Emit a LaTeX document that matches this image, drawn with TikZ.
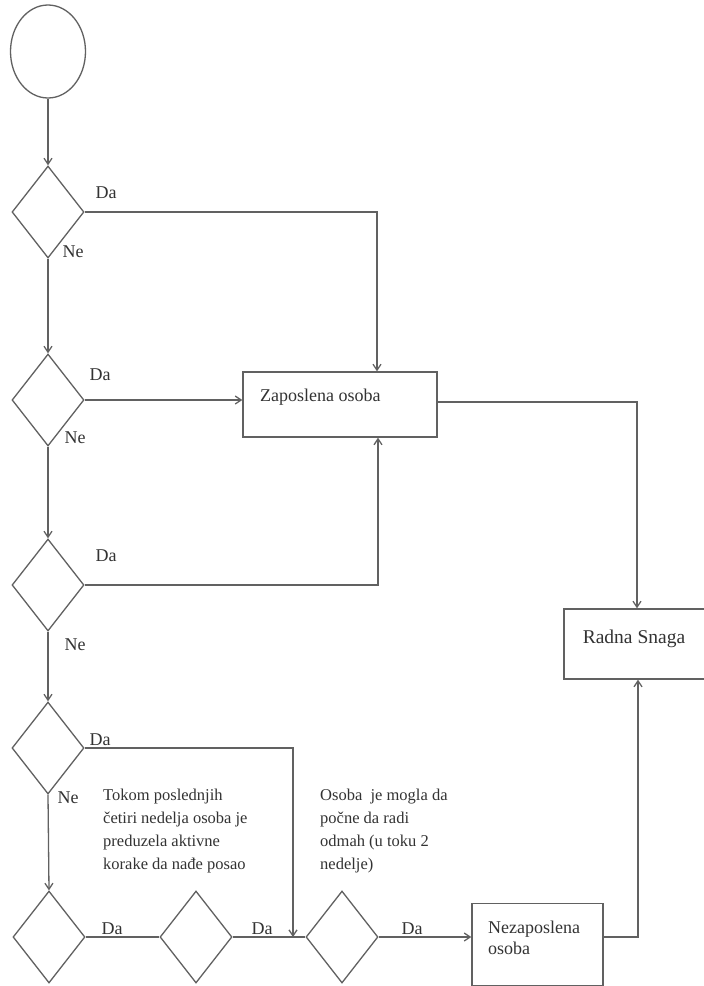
\documentclass[tikz,border=0pt]{standalone}
\usepackage{fontspec}
\setmainfont{Liberation Serif}
\usetikzlibrary{shapes.geometric,arrows.meta}
\begin{document}
\begin{tikzpicture}[x=1pt,y=-1pt,
  ln/.style={draw=black!62, line width=1.3pt},
  arr/.style={ln, -{Straight Barb[length=6pt,width=8pt]}},
  dec/.style={diamond, draw=black!62, line width=1.3pt, minimum width=72pt, minimum height=92pt, inner sep=0pt},
  box/.style={rectangle, draw=black!62, line width=1.3pt, inner sep=0pt},
  lbl/.style={font=\fontsize{18}{20}\selectfont, text=black!80, inner sep=0pt},
  note/.style={font=\fontsize{16.5}{23}\selectfont, text=black!80, align=left, inner sep=0pt}
]
\fill[white] (0,0) rectangle (704,986);
\useasboundingbox (0,0) rectangle (704,986);
\clip (0,0) rectangle (704,986);

% start
\node[ellipse, draw=black!62, line width=1.3pt, minimum width=75pt, minimum height=93pt, inner sep=0pt] (start) at (48,51.5) {};

% decisions
\node[dec] (d1) at (48,212) {};
\node[dec] (d2) at (48,400) {};
\node[dec] (d3) at (48,585) {};
\node[dec] (d4) at (48,748) {};
\node[dec] (d5) at (49,937) {};
\node[dec] (d6) at (196,937) {};
\node[dec] (d7) at (342,937) {};

% boxes
\node[box, minimum width=194pt, minimum height=65pt] (zap) at (340,404.5) {};
\node[lbl, anchor=base west] (zapT) at (260,401) {Zaposlena osoba};

\node[box, minimum width=146pt, minimum height=70pt] (rad) at (637,644) {};
\node[lbl, font=\fontsize{19.5}{22}\selectfont, anchor=base] (radT) at (634,643) {Radna Snaga};

\node[box, minimum width=131pt, minimum height=82pt] (nez) at (537.5,944.5) {};
\node[lbl, align=left, anchor=north west, font=\fontsize{18}{21}\selectfont] (nezT) at (488,920.7) {Nezaposlena\\osoba};

% notes
\node[note, anchor=north west] (n1) at (103,788.7) {Tokom poslednjih\\četiri nedelja osoba je\\preduzela aktivne\\korake da nađe posao};
\node[note, anchor=north west] (n2) at (320,788.7) {Osoba\ \ je mogla da\\počne da radi\\odmah (u toku 2\\nedelje)};

% labels
\node[lbl] (da1) at (106,193) {Da};
\node[lbl] (ne1) at (73,252) {Ne};
\node[lbl] (da2) at (100,375) {Da};
\node[lbl] (ne2) at (75,438) {Ne};
\node[lbl] (da3) at (106,556) {Da};
\node[lbl] (ne3) at (75,645) {Ne};
\node[lbl] (da4) at (100,740) {Da};
\node[lbl] (ne4) at (68,798) {Ne};
\node[lbl] (da5) at (112,929) {Da};
\node[lbl] (da6) at (262,929) {Da};
\node[lbl] (da7) at (412,929) {Da};

% connectors
\draw[arr] (start.south) -- (d1.north);
\draw[arr] (d1.south) -- (d2.north);
\draw[arr] (d2.south) -- (d3.north);
\draw[arr] (d3.south) -- (d4.north);
\draw[arr] (d4.south) -- (d5.north);
\draw[arr] (d1.east) -| ([xshift=37pt]zap.north);
\draw[arr] (d2.east) -- (d2.east -| zap.west);
\draw[arr] (d3.east) -| ([xshift=38pt]zap.south);
\coordinate (j) at (293,937);
\draw[arr] (d4.east) -| (j);
\draw[ln] (d5.east) -- (d6.west);
\draw[ln] (d6.east) -- (d7.west);
\draw[arr] (d7.east) -- (d7.east -| nez.west);
\draw[arr] (nez.east |- d7.east) -| ([xshift=1pt]rad.south);
\draw[arr] ([yshift=2.5pt]zap.east) -| (rad.north);
\end{tikzpicture}
\end{document}
